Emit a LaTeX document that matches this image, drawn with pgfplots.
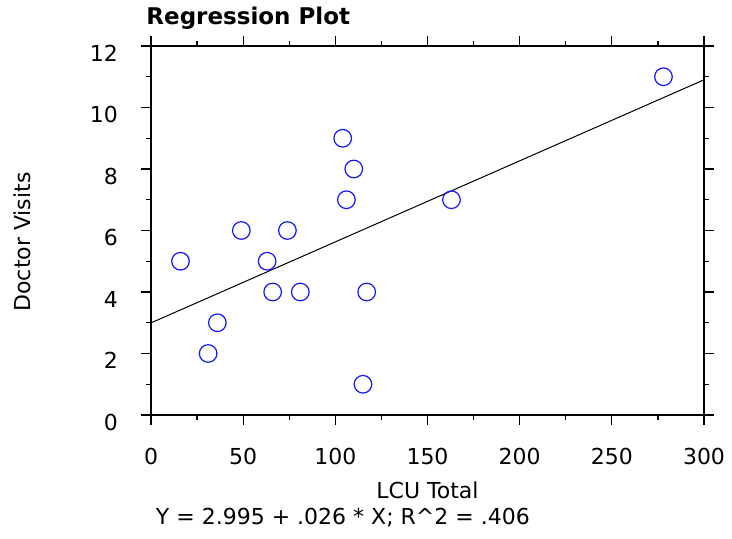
\documentclass[border=0pt]{standalone}
\usepackage{pgfplots}
\pgfplotsset{compat=1.18}
\usepackage{fontspec}
\setmainfont{DejaVu Sans}
\definecolor{ptblue}{RGB}{20,20,255}

\begin{document}
\begin{tikzpicture}
\path[use as bounding box] (0pt,0pt) rectangle (366pt,269.5pt);
\begin{axis}[
  at={(75.5pt,62pt)}, anchor=south west,
  scale only axis, width=276.5pt, height=184.5pt,
  xmin=0, xmax=300, ymin=0, ymax=12,
  xtick={0,50,...,300}, ytick={0,2,...,12},
  minor tick num=1,
  tick align=outside,
  major tick length=5pt, minor tick length=2.5pt,
  every tick/.style={black, line width=0.6pt},
  axis line style={black, line width=0.7pt},
  /pgf/number format/assume math mode=true,
  tick label style={font=\fontsize{11}{13}\selectfont},
  xticklabel style={yshift=-8pt},
  yticklabel style={yshift=-3.5pt, xshift=-8pt},
  title={\bfseries Regression Plot},
  title style={font=\fontsize{11.5}{13}\selectfont, anchor=west,
    at={(axis description cs:-0.021,1.044)}},
  xlabel={LCU Total},
  ylabel={Doctor Visits},
  label style={font=\fontsize{11}{13}\selectfont},
  xlabel style={anchor=center, at={(axis description cs:0.5,-0.203)}},
  ylabel style={anchor=center, at={(axis description cs:-0.233,0.469)}},
  clip=false,
]
% observations
\addplot[only marks, mark=o, mark size=4.4pt,
  mark options={draw=ptblue, line width=0.6pt}]
  coordinates {
  (16,5) (31,2) (36,3) (49,6) (63,5) (66,4) (74,6) (81,4)
  (104,9) (106,7) (110,8) (115,1) (117,4) (163,7) (278,11)
};
% fitted line
\addplot[black, line width=0.5pt] coordinates {(0,2.995) (300,10.9)};
\node[font=\fontsize{11}{13}\selectfont, anchor=center]
  at (axis description cs:0.347,-0.279) {Y = 2.995 + .026 * X; R\textasciicircum 2 = .406};
\end{axis}
\end{tikzpicture}
\end{document}
